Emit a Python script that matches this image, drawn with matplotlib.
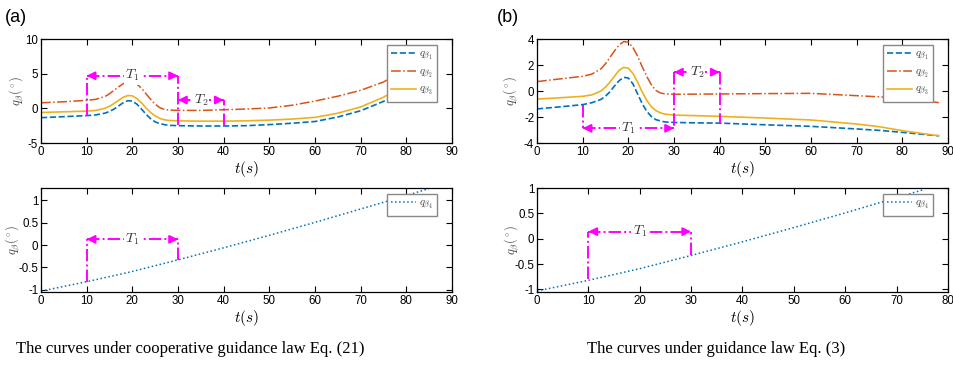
import matplotlib.pyplot as plt

plt.rcParams['font.family'] = ['Liberation Sans', 'DejaVu Sans']
plt.rcParams['mathtext.fontset'] = 'cm'
plt.rcParams['axes.unicode_minus'] = False

# time samples
t_a = [0, 5, 10, 12, 14, 15, 16, 17, 18, 19, 20, 21, 22, 23, 24, 25, 26, 27, 28,
       30, 35, 40, 45, 50, 55, 60, 65, 70, 75, 78, 80]
q1_a = [-1.35, -1.2, -1.05, -0.95, -0.7, -0.45, -0.1, 0.35, 0.8, 1.1, 1.05, 0.6, -0.1,
        -0.85, -1.5, -1.95, -2.2, -2.35, -2.45, -2.5, -2.55, -2.55, -2.5, -2.35, -2.15,
        -1.9, -1.25, -0.35, 1.0, 2.2, 3.0]
q2_a = [0.8, 0.95, 1.15, 1.3, 1.7, 2.1, 2.6, 3.1, 3.55, 3.85, 3.85, 3.5, 2.9, 2.1, 1.3,
        0.6, 0.1, -0.15, -0.25, -0.3, -0.3, -0.2, -0.1, 0.05, 0.45, 1.05, 1.75, 2.6,
        3.8, 4.9, 5.5]
q3_a = [-0.6, -0.5, -0.4, -0.3, 0.0, 0.3, 0.7, 1.15, 1.6, 1.85, 1.8, 1.4, 0.8, 0.05,
        -0.6, -1.1, -1.45, -1.65, -1.75, -1.8, -1.85, -1.85, -1.8, -1.7, -1.55, -1.3,
        -0.7, 0.2, 1.6, 2.7, 3.4]

t_b = [0, 5, 10, 12, 14, 15, 16, 17, 18, 19, 20, 21, 22, 23, 24, 25, 26, 27, 28,
       30, 35, 40, 50, 60, 70, 75, 80, 85, 88]
q1_b = [-1.38, -1.22, -1.05, -0.9, -0.65, -0.4, -0.05, 0.4, 0.8, 1.05, 1.0, 0.55, -0.2,
        -0.95, -1.55, -1.95, -2.2, -2.3, -2.38, -2.42, -2.45, -2.47, -2.6, -2.72,
        -2.92, -3.03, -3.18, -3.35, -3.45]
q2_b = [0.72, 0.93, 1.13, 1.3, 1.7, 2.1, 2.6, 3.1, 3.55, 3.8, 3.75, 3.35, 2.7, 1.9, 1.15,
        0.5, 0.05, -0.15, -0.22, -0.25, -0.24, -0.23, -0.2, -0.18, -0.36, -0.45,
        -0.56, -0.75, -0.9]
q3_b = [-0.62, -0.52, -0.41, -0.3, 0.0, 0.3, 0.7, 1.15, 1.6, 1.82, 1.75, 1.35, 0.7, -0.05,
        -0.7, -1.2, -1.5, -1.68, -1.78, -1.85, -1.9, -1.95, -2.08, -2.23, -2.54, -2.75,
        -3.05, -3.3, -3.44]

t_4a = [0, 10, 20, 30, 40, 50, 60, 70, 80, 85]
q4_a = [-1.03, -0.82, -0.59, -0.33, -0.06, 0.22, 0.51, 0.81, 1.11, 1.27]
t_4b = [0, 10, 20, 30, 40, 50, 60, 70, 75]
q4_b = [-1.03, -0.82, -0.59, -0.33, -0.06, 0.22, 0.51, 0.81, 0.96]

captions = ['The curves under cooperative guidance law Eq. (21)',
            'The curves under guidance law Eq. (3)']

blue = '#0072BD'
red = '#D95319'
orange = '#EDB120'
mag = '#FF00FF'


def style(ax, ylab_x):
    ax.tick_params(direction='in', top=True, right=True, length=4, width=0.8,
                   labelsize=8.3, pad=2)
    for s in ax.spines.values():
        s.set_linewidth(0.9)
    ax.set_xlabel('$t(s)$', fontsize=11, labelpad=1)
    ax.set_ylabel(r'$q_\beta(^\circ)$', fontsize=9, color='#444444', va='center')
    ax.yaxis.set_label_coords(ylab_x, 0.5)


def vline(ax, x, y0, y1):
    ax.plot([x, x], [y0, y1], color=mag, ls='-.', lw=1.4, zorder=4)


def span(ax, x0, x1, y, label):
    ax.plot([x0, x1], [y, y], color=mag, ls='-.', lw=1.4, zorder=4)
    d = (x1 - x0) * 0.08
    for a, b in [(x0, x0 + d), (x1, x1 - d)]:
        ax.annotate('', xy=(a, y), xytext=(b, y),
                    arrowprops=dict(arrowstyle='-|>', color=mag, lw=1.4,
                                    mutation_scale=12, shrinkA=0, shrinkB=0), zorder=5)
    ax.text((x0 + x1) / 2, y, label, ha='center', va='center', fontsize=10,
            color='#333333', zorder=6,
            bbox=dict(facecolor='white', edgecolor='none', pad=1))


def legend(ax):
    lg = ax.legend(loc='upper right', fontsize=8, handlelength=2.2, labelspacing=0.35,
                   borderpad=0.35, handletextpad=0.3, fancybox=False,
                   bbox_to_anchor=(0.963, 0.945), framealpha=1, borderaxespad=0)
    lg.get_frame().set_edgecolor('#888888')
    lg.get_frame().set_linewidth(1.0)
    for tx in lg.get_texts():
        tx.set_color('#444444')


fig = plt.figure(figsize=(9.54, 3.65), dpi=100)
W, H = 954, 365
lefts = [41, 537]
axw = 411 / W
axh = 104 / H

# ---- (a) top
ax = fig.add_axes([lefts[0] / W, 1 - 143 / H, axw, axh])
ax.plot(t_a, q1_a, '--', color=blue, lw=1.2, label=r'$q_{\beta_1}$')
ax.plot(t_a, q2_a, '-.', color=red, lw=1.1, label=r'$q_{\beta_2}$')
ax.plot(t_a, q3_a, '-', color=orange, lw=1.2, label=r'$q_{\beta_3}$')
ax.set_xlim(0, 90)
ax.set_ylim(-5, 10)
ax.set_xticks(range(0, 91, 10))
ax.set_yticks([-5, 0, 5, 10])
vline(ax, 10, -1.1, 4.7)
vline(ax, 30, -2.4, 4.7)
vline(ax, 40, -2.5, 1.2)
span(ax, 10, 30, 4.7, '$T_1$')
span(ax, 30, 40, 1.2, '$T_2$')
style(ax, (17 - 41) / 411)
legend(ax)

# ---- (b) top
ax = fig.add_axes([lefts[1] / W, 1 - 143 / H, axw, axh])
ax.plot(t_b, q1_b, '--', color=blue, lw=1.2, label=r'$q_{\beta_1}$')
ax.plot(t_b, q2_b, '-.', color=red, lw=1.1, label=r'$q_{\beta_2}$')
ax.plot(t_b, q3_b, '-', color=orange, lw=1.2, label=r'$q_{\beta_3}$')
ax.set_xlim(0, 90)
ax.set_ylim(-4, 4)
ax.set_xticks(range(0, 91, 10))
ax.set_yticks([-4, -2, 0, 2, 4])
vline(ax, 10, -1.05, -2.87)
vline(ax, 30, 1.45, -2.87)
vline(ax, 40, 1.45, -2.47)
span(ax, 10, 30, -2.87, '$T_1$')
span(ax, 30, 40, 1.45, '$T_2$')
style(ax, (511 - 537) / 411)
legend(ax)

# ---- (a) bottom
ax = fig.add_axes([lefts[0] / W, 1 - 292 / H, axw, axh])
ax.plot(t_4a, q4_a, ':', color=blue, lw=1.1, label=r'$q_{\beta_4}$')
ax.set_xlim(0, 90)
ax.set_ylim(-1.05, 1.28)
ax.set_xticks(range(0, 91, 10))
ax.set_yticks([-1, -0.5, 0, 0.5, 1])
ax.set_yticklabels(['-1', '-0.5', '0', '0.5', '1'])
vline(ax, 10, -0.82, 0.13)
vline(ax, 30, -0.33, 0.13)
span(ax, 10, 30, 0.13, '$T_1$')
style(ax, (13 - 41) / 411)
legend(ax)

# ---- (b) bottom
ax = fig.add_axes([lefts[1] / W, 1 - 292 / H, axw, axh])
ax.plot(t_4b, q4_b, ':', color=blue, lw=1.1, label=r'$q_{\beta_4}$')
ax.set_xlim(0, 80)
ax.set_ylim(-1.05, 1.0)
ax.set_xticks(range(0, 81, 10))
ax.set_yticks([-1, -0.5, 0, 0.5, 1])
ax.set_yticklabels(['-1', '-0.5', '0', '0.5', '1'])
vline(ax, 10, -0.8, 0.14)
vline(ax, 30, -0.33, 0.14)
span(ax, 10, 30, 0.14, '$T_1$')
style(ax, (512 - 537) / 411)
legend(ax)

fig.text(5 / W, 1 - 17 / H, '(a)', fontsize=13, va='center', ha='left')
fig.text(497 / W, 1 - 17 / H, '(b)', fontsize=13, va='center', ha='left')
fig.text(190 / W, 1 - 349 / H, captions[0], fontsize=12, ha='center', va='center',
         family='Liberation Serif')
fig.text(716 / W, 1 - 349 / H, captions[1], fontsize=12, ha='center', va='center',
         family='Liberation Serif')

fig.savefig('out.png', dpi=100)
